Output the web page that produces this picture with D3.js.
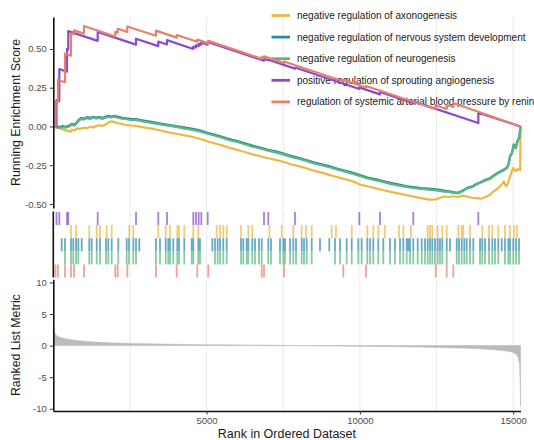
<!DOCTYPE html>
<html>
<head>
<meta charset="utf-8">
<script src="https://cdn.jsdelivr.net/npm/d3@7"></script>
<style>
  body { margin: 0; background: #fff; }
  text { font-family: "Liberation Sans", Arial, Helvetica, sans-serif; }
</style>
</head>
<body>
<svg id="chart" width="534" height="440"></svg>
<script>
// ---- data -------------------------------------------------------------
const totalGenes = 15240;

const setNames = [
  "negative regulation of axonogenesis",
  "negative regulation of nervous system development",
  "negative regulation of neurogenesis",
  "positive regulation of sprouting angiogenesis",
  "regulation of systemic arterial blood pressure by renin"
];
const setColors = ["#EDB743", "#2B89A6", "#5CB67F", "#8A4CCF", "#E7806D"];

// gene-set member ranks (rug ticks)
const hitsAxonogenesis = [577, 740, 1174, 1416, 1523, 1742, 1905, 2479, 2610, 3425, 3667, 3807, 4045, 4100,
  4273, 4567, 4730, 5330, 5438, 5545, 5656, 6123, 6361, 6491, 7046, 7450, 7829, 8103, 8243, 8429, 9081,
  9222, 9734, 10243, 10438, 10602, 10820, 11277, 11417, 11668, 12213, 12288, 12363, 12539, 12689, 12833,
  13211, 13322, 13374, 13593, 13994, 14213, 14320, 14516, 14734, 14897, 15028, 15126];
const hitsNervousDev = [274, 382, 577, 652, 740, 816, 926, 1174, 1253, 1416, 1523, 1719, 1794, 1905, 2120,
  2394, 2469, 2610, 2698, 2805, 3350, 3480, 3667, 3751, 3807, 3914, 4045, 4100, 4273, 4515, 4567, 4730,
  4785, 5187, 5275, 5363, 5438, 5545, 5656, 6123, 6198, 6309, 6361, 6491, 6580, 6710, 6798, 7013, 7101,
  7395, 7503, 7558, 7721, 7829, 7917, 8103, 8178, 8266, 8429, 8700, 9003, 9189, 9352, 9571, 9734, 9949,
  10060, 10243, 10331, 10438, 10602, 10765, 10983, 11146, 11309, 11417, 11528, 11580, 11636, 11743, 11887,
  12017, 12125, 12213, 12288, 12363, 12451, 12539, 12614, 12689, 12833, 12940, 13159, 13234, 13322, 13407,
  13485, 13593, 13701, 13920, 13994, 14082, 14213, 14320, 14408, 14516, 14627, 14734, 14842, 14897, 15005,
  15093, 15191];
const hitsNeurogenesis = [382, 577, 652, 740, 816, 1174, 1253, 1416, 1523, 1719, 1794, 1905, 2120,
  2394, 2469, 2610, 2698, 3350, 3480, 3667, 3751, 3807, 3914, 4045, 4100, 4273, 4515, 4567, 4730,
  4785, 5275, 5363, 5438, 5545, 5656, 6123, 6198, 6309, 6361, 6491, 6580, 6710, 6798, 7013, 7101,
  7395, 7503, 7558, 7721, 7829, 7917, 8103, 8178, 8266, 8429, 9189, 9352, 9571, 9734, 9949,
  10060, 10243, 10331, 10438, 10602, 10765, 10983, 11146, 11309, 11417, 11528, 11636, 11743, 11887,
  12017, 12125, 12213, 12288, 12363, 12451, 12539, 12614, 12689, 12833, 13159, 13234, 13322, 13407,
  13485, 13593, 13701, 13920, 13994, 14082, 14213, 14320, 14408, 14516, 14734, 14842, 14897, 15005,
  15093, 15191];
const hitsSprouting = [104, 196, 447, 489, 1448, 2698, 3425, 3709, 4567, 4655, 4743, 4828, 5037, 6873,
  7013, 7884, 9982, 10657, 11743, 13864];
const hitsRenin = [72, 153, 382, 577, 675, 1001, 2022, 2101, 2414, 3350, 4025, 4697, 5056, 6798, 6873,
  7525, 9460, 10200, 12474, 12833, 13048];

// running enrichment score, sets with few members: value just before / after each member
const sproutingBefore = [-0.004, 0.164, 0.353, 0.497, 0.552, 0.528, 0.518, 0.529, 0.500, 0.509, 0.518,
  0.527, 0.528, 0.424, 0.427, 0.373, 0.242, 0.207, 0.150, 0.022];
const sproutingAfter = [0.170, 0.370, 0.500, 0.615, 0.610, 0.566, 0.548, 0.557, 0.515, 0.524, 0.533,
  0.542, 0.545, 0.436, 0.430, 0.380, 0.252, 0.222, 0.162, 0.088];
const reninBefore = [-0.004, 0.155, 0.285, 0.457, 0.594, 0.600, 0.580, 0.605, 0.610, 0.585, 0.573, 0.546,
  0.536, 0.437, 0.442, 0.409, 0.292, 0.251, 0.111, 0.113, 0.125];
const reninAfter = [0.160, 0.300, 0.470, 0.600, 0.620, 0.648, 0.610, 0.630, 0.645, 0.618, 0.590, 0.560,
  0.552, 0.447, 0.452, 0.419, 0.300, 0.261, 0.137, 0.139, 0.151];

// running enrichment score, large sets: sampled along the ranked list
const esRanksNeuro = [0, 100, 200, 300, 400, 500, 600, 700, 800, 900, 1000, 1100, 1200, 1300, 1400, 1500,
  1600, 1700, 1800, 1900, 2000, 2100, 2250, 2400, 2550, 2700, 2850, 3000, 3250, 3500, 3750, 4000, 4250,
  4500, 4750, 5000, 5250, 5500, 5750, 6000, 6250, 6500, 6750, 7000, 7250, 7500, 7750, 8000, 8250, 8500,
  8750, 9000, 9250, 9500, 9750, 10000, 10250, 10500, 10750, 11000, 11250, 11500, 11750, 12000, 12250,
  12500, 12750, 12900, 13050, 13200, 13350, 13500, 13650, 13800, 13950, 14100, 14250, 14400, 14550, 14700,
  14800, 14850, 14900, 14960, 15020, 15080, 15140, 15200, 15230, 15240];
const esNeurogenesis = [0, -0.005, -0.010, -0.004, -0.008, -0.002, 0.010, 0.006, 0.030, 0.048, 0.044,
  0.054, 0.049, 0.056, 0.051, 0.055, 0.049, 0.056, 0.062, 0.058, 0.063, 0.057, 0.050, 0.047, 0.041, 0.042,
  0.035, 0.030, 0.022, 0.013, 0.005, -0.003, -0.012, -0.020, -0.030, -0.045, -0.058, -0.072, -0.088,
  -0.100, -0.115, -0.130, -0.142, -0.156, -0.167, -0.180, -0.196, -0.208, -0.222, -0.238, -0.250, -0.262,
  -0.277, -0.290, -0.304, -0.320, -0.335, -0.346, -0.358, -0.370, -0.380, -0.390, -0.397, -0.403, -0.407,
  -0.412, -0.420, -0.422, -0.428, -0.432, -0.418, -0.400, -0.392, -0.375, -0.362, -0.348, -0.338, -0.315,
  -0.298, -0.282, -0.268, -0.245, -0.195, -0.175, -0.120, -0.142, -0.100, -0.070, -0.020, 0];
const esNervousDev = [0, 0.000, -0.004, 0.002, -0.002, 0.004, 0.016, 0.012, 0.036, 0.054, 0.050, 0.060,
  0.055, 0.062, 0.057, 0.061, 0.055, 0.062, 0.068, 0.064, 0.069, 0.063, 0.056, 0.053, 0.047, 0.048, 0.041,
  0.036, 0.028, 0.019, 0.011, 0.003, -0.006, -0.014, -0.024, -0.039, -0.052, -0.066, -0.082, -0.094,
  -0.109, -0.124, -0.136, -0.150, -0.161, -0.174, -0.190, -0.202, -0.216, -0.232, -0.244, -0.256, -0.271,
  -0.284, -0.298, -0.314, -0.329, -0.340, -0.352, -0.364, -0.374, -0.384, -0.391, -0.397, -0.401, -0.406,
  -0.414, -0.418, -0.424, -0.428, -0.414, -0.396, -0.388, -0.371, -0.358, -0.344, -0.334, -0.311, -0.294,
  -0.278, -0.264, -0.241, -0.191, -0.171, -0.116, -0.138, -0.096, -0.066, -0.016, 0];
const esRanksAxon = [0, 100, 200, 300, 400, 500, 560, 600, 700, 750, 850, 1000, 1100, 1200, 1300, 1400,
  1500, 1600, 1700, 1800, 1900, 2000, 2100, 2250, 2400, 2550, 2700, 2850, 3000, 3250, 3500, 3750, 4000,
  4250, 4500, 4750, 5000, 5250, 5500, 5750, 6000, 6250, 6500, 6750, 7000, 7250, 7500, 7750, 8000, 8250,
  8500, 8750, 9000, 9250, 9500, 9750, 10000, 10250, 10500, 10750, 11000, 11250, 11500, 11750, 12000,
  12250, 12500, 12600, 12750, 12900, 13050, 13200, 13350, 13500, 13650, 13800, 13950, 14100, 14250, 14350,
  14500, 14600, 14700, 14760, 14830, 14900, 15000, 15080, 15150, 15230, 15240];
const esAxonogenesis = [0, -0.006, -0.010, -0.018, -0.025, -0.030, -0.035, -0.020, -0.026, -0.012, -0.016,
  -0.008, -0.012, -0.002, -0.006, 0.002, 0.008, 0.003, 0.012, 0.025, 0.033, 0.028, 0.021, 0.016, 0.008,
  0.006, 0.004, -0.003, -0.008, -0.016, -0.026, -0.038, -0.047, -0.056, -0.066, -0.078, -0.094, -0.108,
  -0.122, -0.138, -0.151, -0.165, -0.180, -0.192, -0.205, -0.216, -0.228, -0.244, -0.256, -0.270, -0.286,
  -0.298, -0.312, -0.326, -0.340, -0.352, -0.375, -0.386, -0.398, -0.410, -0.422, -0.432, -0.442, -0.452,
  -0.462, -0.472, -0.470, -0.462, -0.452, -0.455, -0.450, -0.455, -0.446, -0.452, -0.460, -0.462, -0.466,
  -0.455, -0.440, -0.420, -0.400, -0.380, -0.355, -0.385, -0.370, -0.320, -0.268, -0.288, -0.275, -0.280, 0];

// ranked list metric, sampled along the list
const metricRanks = [0, 25, 55, 120, 220, 380, 545, 870, 1200, 1520, 2010, 2500, 3150, 3970, 5010, 6090,
  7300, 8050, 8700, 9740, 10980, 11960, 12520, 13270, 13920, 14410, 14730, 14960, 15090, 15160, 15210,
  15230, 15240];
const metricValues = [3.4, 2.4, 1.9, 1.55, 1.3, 1.1, 0.95, 0.75, 0.62, 0.52, 0.42, 0.35, 0.28, 0.21, 0.15,
  0.10, 0.05, 0.0, -0.03, -0.08, -0.15, -0.22, -0.28, -0.38, -0.5, -0.65, -0.8, -1.0, -1.3, -1.8, -3, -6, -9.6];

// axis ticks
const esTicks = [-0.5, -0.25, 0, 0.25, 0.5];
const metricTicks = [-10, -5, 0, 5, 10];
const rankTicks = [5000, 10000, 15000];
const rankGrid = [2500, 5000, 7500, 10000, 12500, 15000];

// ---- layout -----------------------------------------------------------
const svg = d3.select("#chart");
const left = 53.3, right = 520.5;
const topPanel = { y0: 17, y1: 208 };
const rugPanel = { y0: 212, y1: 277.5 };
const botPanel = { y0: 279.3, y1: 411 };

const x = d3.scaleLinear().domain([0, totalGenes]).range([left, right]);
const yES = d3.scaleLinear().domain([-0.526, 0.706]).range([topPanel.y1, topPanel.y0]);
const yM = d3.scaleLinear().domain([-10.35, 10.5]).range([botPanel.y1, botPanel.y0]);

const gridColor = "#EBEBEB";
const axisColor = "#111";
const labelColor = "#4D4D4D";

// vertical grid lines in every panel
[topPanel, { y0: 209.5, y1: 278 }, botPanel].forEach(p => {
  svg.append("g").selectAll("line").data(rankGrid).join("line")
    .attr("x1", d => x(d)).attr("x2", d => x(d))
    .attr("y1", p.y0).attr("y2", p.y1)
    .attr("stroke", gridColor).attr("stroke-width", 1.1);
});

// ---- running enrichment score lines ----
function stepPoints(hits, before, after) {
  const pts = [[0, 0]];
  hits.forEach((h, i) => { pts.push([h, before[i]]); pts.push([h, after[i]]); });
  pts.push([totalGenes, 0]);
  return pts;
}
function sampledPoints(ranks, values) {
  return ranks.map((r, i) => [r, values[i]]);
}
const esSeries = [
  sampledPoints(esRanksAxon, esAxonogenesis),
  sampledPoints(esRanksNeuro, esNervousDev),
  sampledPoints(esRanksNeuro, esNeurogenesis),
  stepPoints(hitsSprouting, sproutingBefore, sproutingAfter),
  stepPoints(hitsRenin, reninBefore, reninAfter)
];
const esLine = d3.line().x(d => x(d[0])).y(d => yES(d[1]));

// legend (drawn inside the top panel)
const legend = svg.append("g");
setNames.forEach((name, i) => {
  const ly = 15.5 + i * 21.6;
  legend.append("line").attr("x1", 271.5).attr("x2", 290).attr("y1", ly).attr("y2", ly)
    .attr("stroke", setColors[i]).attr("stroke-width", 2.8);
  legend.append("text").attr("x", 297).attr("y", ly).attr("dy", "0.35em")
    .attr("font-size", "10px").attr("fill", "#1A1A1A").text(name);
});

svg.append("g").selectAll("path").data(esSeries).join("path")
  .attr("d", esLine).attr("fill", "none")
  .attr("stroke", (d, i) => setColors[i]).attr("stroke-width", 2.2)
  .attr("stroke-linejoin", "round");

// ---- rug of gene-set members ----
const rugOrder = [3, 0, 1, 2, 4]; // rows top to bottom
const hitSets = [hitsAxonogenesis, hitsNervousDev, hitsNeurogenesis, hitsSprouting, hitsRenin];
const rowH = (rugPanel.y1 - rugPanel.y0) / rugOrder.length;
rugOrder.forEach((s, row) => {
  svg.append("g").selectAll("line").data(hitSets[s]).join("line")
    .attr("x1", d => x(d)).attr("x2", d => x(d))
    .attr("y1", rugPanel.y0 + row * rowH).attr("y2", rugPanel.y0 + (row + 1) * rowH)
    .attr("stroke", setColors[s]).attr("stroke-width", 1.8).attr("stroke-opacity", 0.72);
});

// ---- ranked list metric ----
const metricPts = metricRanks.map((r, i) => [r, metricValues[i]]);
svg.append("path").datum(metricPts)
  .attr("d", d3.area().x(d => x(d[0])).y0(yM(0)).y1(d => yM(d[1])))
  .attr("fill", "#BBBBBB").attr("stroke", "#BBBBBB").attr("stroke-width", 0.6);

// ---- axes ----
function styleAxis(g) {
  g.selectAll(".domain").attr("stroke", axisColor).attr("stroke-width", 1.6);
  g.selectAll(".tick line").attr("stroke", "#333").attr("stroke-width", 1);
  g.selectAll(".tick text").attr("fill", labelColor).attr("font-size", "9.5px")
    .attr("font-family", '"Liberation Sans", Arial, sans-serif');
}
svg.append("g").attr("transform", `translate(${left},0)`)
  .call(d3.axisLeft(yES).tickValues(esTicks).tickFormat(d => d.toFixed(2)).tickSize(3.5).tickSizeOuter(0).tickPadding(3))
  .call(styleAxis);
svg.append("line").attr("x1", left).attr("x2", left).attr("y1", rugPanel.y0 - 0.5).attr("y2", rugPanel.y1)
  .attr("stroke", axisColor).attr("stroke-width", 1.6);
svg.append("g").attr("transform", `translate(${left},0)`)
  .call(d3.axisLeft(yM).tickValues(metricTicks).tickFormat(d => String(d)).tickSize(3.5).tickSizeOuter(0).tickPadding(3))
  .call(styleAxis);
svg.append("g").attr("transform", `translate(0,${botPanel.y1})`)
  .call(d3.axisBottom(x).tickValues(rankTicks).tickFormat(d => String(d)).tickSize(3.5).tickSizeOuter(0).tickPadding(3))
  .call(styleAxis);

// ---- axis titles ----
svg.append("text").attr("transform", `translate(15.5,${(topPanel.y0 + topPanel.y1) / 2}) rotate(-90)`)
  .attr("text-anchor", "middle").attr("dy", "0.35em").attr("font-size", "12.3px").attr("fill", "#1A1A1A")
  .text("Running Enrichment Score");
svg.append("text").attr("transform", `translate(15.5,${(botPanel.y0 + botPanel.y1) / 2}) rotate(-90)`)
  .attr("text-anchor", "middle").attr("dy", "0.35em").attr("font-size", "12.3px").attr("fill", "#1A1A1A")
  .text("Ranked List Metric");
svg.append("text").attr("x", (left + right) / 2).attr("y", 438)
  .attr("text-anchor", "middle").attr("font-size", "12.5px").attr("fill", "#1A1A1A")
  .text("Rank in Ordered Dataset");
</script>
</body>
</html>
